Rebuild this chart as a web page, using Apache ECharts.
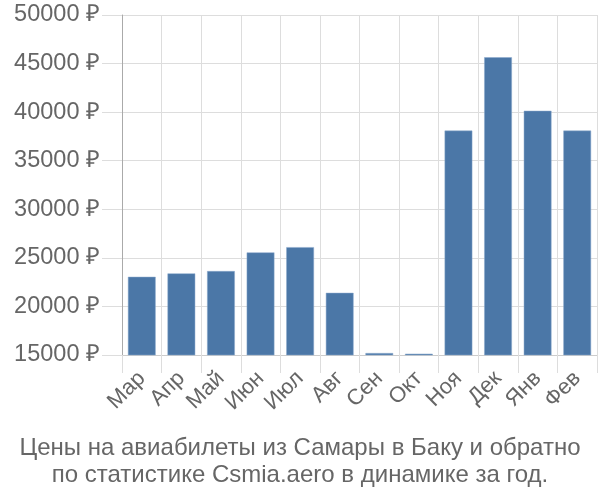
<!DOCTYPE html>
<html><head><meta charset="utf-8">
<script src="https://cdn.jsdelivr.net/npm/echarts@6/dist/echarts.min.js"></script>
<style>html,body{margin:0;padding:0;background:#fff}#c{width:600px;height:500px}</style>
</head><body><div id="c"></div>
<script>
const months = ['Мар','Апр','Май','Июн','Июл','Авг','Сен','Окт','Ноя','Дек','Янв','Фев'];
const prices = [23050, 23400, 23640, 25560, 26100, 21400, 15200, 15130, 38100, 45650, 40140, 38100];
const yTicks = {min: 15000, max: 50000, interval: 5000};
const titleLines = ['Цены на авиабилеты из Самары в Баку и обратно', 'по статистике Csmia.aero в динамике за год.'];

const chart = echarts.init(document.getElementById('c'), null, {renderer: 'canvas'});
chart.setOption({
  animation: false,
  textStyle: {fontFamily: 'Liberation Sans, Arial, sans-serif'},
  title: {
    text: titleLines.join('\n'),
    left: 'center', top: 430,
    textStyle: {fontSize: 24, fontWeight: 'normal', color: '#666', lineHeight: 27, fontFamily: 'Liberation Sans, Arial, sans-serif'}
  },
  grid: {left: 122, right: 3, top: 15, bottom: 145},
  xAxis: {
    type: 'category', data: months,
    axisLine: {show: true, lineStyle: {color: '#ccc'}},
    axisTick: {show: true, length: 18, lineStyle: {color: '#ddd'}},
    splitLine: {show: true, lineStyle: {color: '#ddd'}},
    axisLabel: {rotate: 45, interval: 0, fontSize: 22, color: '#666', margin: 20}
  },
  yAxis: {
    type: 'value', min: yTicks.min, max: yTicks.max, interval: yTicks.interval,
    axisLine: {show: true, lineStyle: {color: '#aaa'}},
    axisTick: {show: true, length: 20, lineStyle: {color: '#ddd'}},
    splitLine: {show: true, lineStyle: {color: '#ddd'}},
    axisLabel: {fontSize: 23.5, color: '#666', margin: 22, formatter: v => v + ' ₽'}
  },
  series: [{
    type: 'bar', data: prices, barCategoryGap: '30%',
    itemStyle: {color: '#4b77a7', borderColor: '#8aa9cc', borderWidth: 0.5}
  }]
});
</script></body></html>
